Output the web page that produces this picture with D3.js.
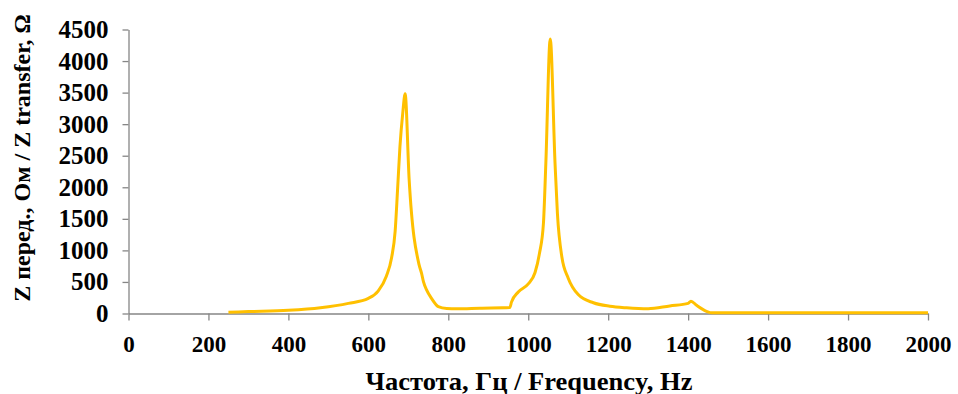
<!DOCTYPE html>
<html>
<head>
<meta charset="utf-8">
<script src="https://cdn.jsdelivr.net/npm/d3@7"></script>
<style>
  html, body { margin: 0; padding: 0; background: #fff; }
  svg { display: block; }
  .tick text { font-family: "Liberation Serif", "Times New Roman", serif; font-weight: bold; fill: #000; }
  .axis-title { font-family: "Liberation Serif", "Times New Roman", serif; font-weight: bold; fill: #000; }
</style>
</head>
<body>
<svg id="chart" width="958" height="394"></svg>
<script>
// Transfer impedance vs frequency
const frequency = [250, 300, 400, 480, 550, 600, 625, 645, 658, 667, 673, 679, 686, 692,
  702, 727, 733, 738, 746, 758, 775, 796, 821, 879, 954, 958, 975, 1000, 1017, 1028,
  1038, 1044, 1055, 1067, 1073, 1084, 1100, 1125, 1163, 1204, 1246, 1300, 1354, 1400,
  1407, 1421, 1446, 1460, 2000];
const impedance = [20, 30, 50, 90, 160, 240, 360, 590, 880, 1300, 1950, 2640, 3170, 3480,
  2130, 770, 640, 500, 370, 240, 110, 80, 75, 85, 95, 180, 340, 470, 650, 950,
  1430, 2380, 4350, 2380, 1580, 900, 560, 300, 170, 115, 90, 75, 120, 160,
  195, 130, 35, 10, 10];
const xTicks = [0, 200, 400, 600, 800, 1000, 1200, 1400, 1600, 1800, 2000];
const yTicks = [0, 500, 1000, 1500, 2000, 2500, 3000, 3500, 4000, 4500];

const points = frequency.map((f, i) => ({ f, z: impedance[i] }));

const svg = d3.select("#chart");
const margin = { left: 128.5, right: 30, top: 29.5, bottom: 80.5 };
const W = 958, H = 394;

const x = d3.scaleLinear().domain([0, 2000]).range([margin.left, W - margin.right]);
const y = d3.scaleLinear().domain([0, 4500]).range([H - margin.bottom, margin.top]);

const axisColor = "#868686";
const fmt = d3.format("d");

const gx = svg.append("g")
  .attr("transform", `translate(0,${y(0)})`)
  .call(d3.axisBottom(x).tickValues(xTicks).tickFormat(fmt).tickSize(7).tickSizeOuter(0).tickPadding(15));
gx.select(".domain").attr("stroke", axisColor).attr("stroke-width", 1.3);
gx.selectAll(".tick line").attr("stroke", axisColor).attr("stroke-width", 1.3);
gx.selectAll(".tick text").style("font-size", "23px");

const gy = svg.append("g")
  .attr("transform", `translate(${x(0)},0)`)
  .call(d3.axisLeft(y).tickValues(yTicks).tickFormat(fmt).tickSize(6).tickSizeOuter(0).tickPadding(14));
gy.select(".domain").attr("stroke", axisColor).attr("stroke-width", 1.3);
gy.selectAll(".tick line").attr("stroke", axisColor).attr("stroke-width", 1.3);
gy.selectAll(".tick text").style("font-size", "25px");

const line = d3.line()
  .x(d => x(d.f))
  .y(d => y(d.z))
  .curve(d3.curveMonotoneX);

svg.append("path")
  .datum(points)
  .attr("fill", "none")
  .attr("stroke", "#FFC000")
  .attr("stroke-width", 3)
  .attr("stroke-linejoin", "round")
  .attr("d", line);

svg.append("text")
  .attr("class", "axis-title")
  .attr("x", 529)
  .attr("y", 390)
  .attr("text-anchor", "middle")
  .attr("textLength", 327)
  .attr("lengthAdjust", "spacingAndGlyphs")
  .style("font-size", "25px")
  .text("Частота, Гц / Frequency, Hz");

svg.append("text")
  .attr("class", "axis-title")
  .attr("transform", `translate(30,158) rotate(-90)`)
  .attr("text-anchor", "middle")
  .style("font-size", "24px")
  .text("Z перед., Ом / Z transfer, Ω");
</script>
</body>
</html>
